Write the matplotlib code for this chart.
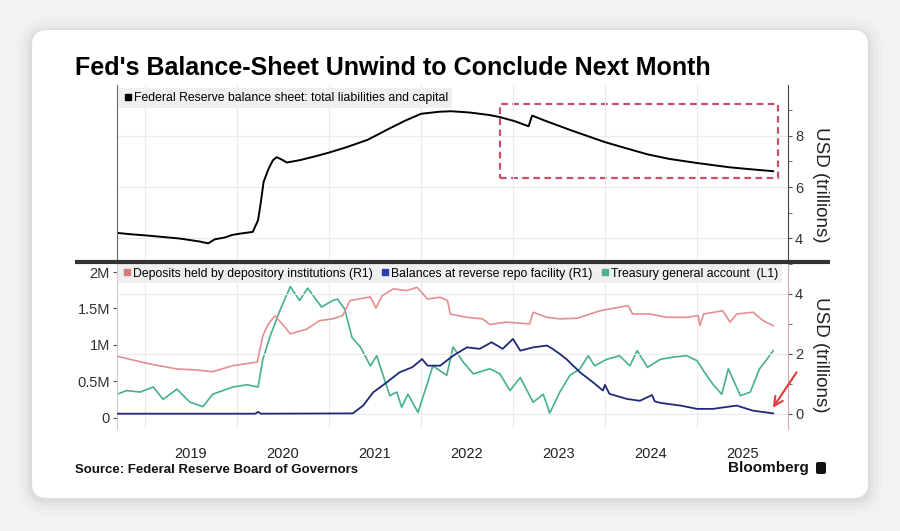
import matplotlib.pyplot as plt
import matplotlib.dates as mdates
from matplotlib.patches import FancyBboxPatch, Rectangle
from matplotlib.lines import Line2D
import pandas as pd

plt.rcParams['font.family'] = ['Liberation Sans Narrow', 'Liberation Sans', 'DejaVu Sans']

# Fed balance sheet, total liabilities and capital (USD trillions)
fed_dates = ['2018-09-13', '2018-11-03', '2019-01-19', '2019-05-19', '2019-08-08', '2019-09-09',
             '2019-10-05', '2019-11-14', '2019-12-13', '2020-01-12', '2020-03-04', '2020-03-25',
             '2020-04-05', '2020-04-16', '2020-05-05', '2020-05-23', '2020-06-07', '2020-07-02',
             '2020-07-17', '2020-09-06', '2020-11-06', '2021-01-01', '2021-03-08', '2021-06-03',
             '2021-08-30', '2021-10-30', '2022-01-01', '2022-03-14', '2022-05-01', '2022-07-13',
             '2022-10-01', '2022-11-10', '2023-01-08', '2023-03-04', '2023-03-18', '2023-05-08',
             '2023-08-26', '2024-01-01', '2024-03-14', '2024-06-18', '2024-09-13', '2025-01-01',
             '2025-05-12', '2025-08-19', '2025-10-30']
fed_total = [4.20, 4.15, 4.09, 3.98, 3.86, 3.79,
             3.95, 4.02, 4.12, 4.17, 4.24, 4.70,
             5.40, 6.20, 6.70, 7.05, 7.17, 7.05,
             6.96, 7.05, 7.20, 7.35, 7.55, 7.85,
             8.30, 8.60, 8.87, 8.95, 8.97, 8.92,
             8.82, 8.74, 8.58, 8.38, 8.80, 8.60,
             8.20, 7.76, 7.55, 7.28, 7.10, 6.94,
             6.77, 6.68, 6.62]

# Deposits held by depository institutions (USD trillions, right axis)
dep_dates = ['2018-09-13', '2019-01-19', '2019-05-08', '2019-07-17', '2019-09-27', '2019-12-16',
             '2020-03-22', '2020-04-13', '2020-05-05', '2020-05-31', '2020-06-29', '2020-07-31',
             '2020-10-05', '2020-11-24', '2021-01-16', '2021-02-24', '2021-03-25', '2021-06-14',
             '2021-07-06', '2021-07-31', '2021-09-13', '2021-11-06', '2021-12-16', '2022-01-27',
             '2022-03-18', '2022-04-16', '2022-04-27', '2022-07-02', '2022-09-02', '2022-10-01',
             '2022-12-05', '2023-03-08', '2023-03-22', '2023-05-16', '2023-07-06', '2023-09-13',
             '2023-11-03', '2023-12-13', '2024-02-03', '2024-04-02', '2024-04-20', '2024-06-29',
             '2024-09-02', '2024-11-21', '2025-01-05', '2025-01-12', '2025-01-27', '2025-04-13',
             '2025-05-12', '2025-06-07', '2025-08-11', '2025-09-20', '2025-10-30']
deposits = [1.92, 1.67, 1.50, 1.47, 1.41, 1.61,
            1.73, 2.61, 3.00, 3.27, 3.00, 2.67,
            2.83, 3.11, 3.17, 3.28, 3.78, 3.90,
            3.53, 3.94, 4.17, 4.11, 4.22, 3.83,
            3.89, 3.78, 3.33, 3.22, 3.17, 2.98,
            3.06, 3.00, 3.39, 3.22, 3.17, 3.19,
            3.33, 3.44, 3.52, 3.61, 3.33, 3.33,
            3.22, 3.22, 3.28, 2.94, 3.33, 3.44,
            3.06, 3.33, 3.39, 3.11, 2.94]

# Balances at reverse repo facility (USD trillions, right axis)
rrp_dates = ['2018-09-13', '2020-03-14', '2020-03-25', '2020-04-05', '2021-04-05', '2021-05-16',
             '2021-06-25', '2021-08-19', '2021-10-08', '2021-11-28', '2022-01-05', '2022-01-27',
             '2022-03-18', '2022-05-08', '2022-07-02', '2022-08-22', '2022-10-08', '2022-11-21',
             '2023-01-01', '2023-01-30', '2023-03-22', '2023-05-16', '2023-06-07', '2023-07-06',
             '2023-08-01', '2023-09-24', '2023-11-14', '2023-12-24', '2024-01-01', '2024-01-19',
             '2024-03-29', '2024-05-19', '2024-07-06', '2024-07-17', '2024-08-08', '2024-10-27',
             '2025-01-01', '2025-03-04', '2025-06-07', '2025-08-11', '2025-10-30']
rrp = [0.01, 0.01, 0.07, 0.01, 0.02, 0.28,
       0.72, 1.06, 1.39, 1.56, 1.83, 1.61,
       1.61, 1.94, 2.22, 2.17, 2.39, 2.17,
       2.50, 2.11, 2.22, 2.28, 2.17, 2.00,
       1.83, 1.39, 1.06, 0.78, 0.97, 0.67,
       0.50, 0.44, 0.63, 0.42, 0.37, 0.28,
       0.17, 0.17, 0.28, 0.11, 0.02]

# Treasury general account (USD millions, in M units, left axis)
tga_dates = ['2018-09-13', '2018-10-19', '2018-12-13', '2019-02-03', '2019-03-14', '2019-05-08',
             '2019-06-29', '2019-08-19', '2019-09-27', '2019-11-14', '2019-12-16', '2020-02-10',
             '2020-03-25', '2020-04-13', '2020-05-12', '2020-06-22', '2020-07-31', '2020-09-06',
             '2020-10-08', '2020-12-02', '2021-01-16', '2021-02-03', '2021-03-04', '2021-04-02',
             '2021-05-05', '2021-06-14', '2021-07-09', '2021-08-30', '2021-09-27', '2021-10-16',
             '2021-11-10', '2021-12-20', '2022-01-27', '2022-02-17', '2022-04-13', '2022-05-08',
             '2022-06-18', '2022-07-28', '2022-10-01', '2022-11-10', '2022-12-20', '2023-01-30',
             '2023-03-22', '2023-05-01', '2023-05-27', '2023-07-06', '2023-08-15', '2023-09-24',
             '2023-10-27', '2023-11-21', '2024-01-08', '2024-02-28', '2024-04-09', '2024-05-08',
             '2024-06-18', '2024-08-08', '2024-09-27', '2024-11-21', '2025-01-01', '2025-01-27',
             '2025-03-04', '2025-04-09', '2025-05-05', '2025-05-23', '2025-06-22', '2025-07-31',
             '2025-09-06', '2025-10-05', '2025-10-30']
tga = [0.32, 0.37, 0.35, 0.42, 0.25, 0.39,
       0.21, 0.15, 0.32, 0.38, 0.42, 0.45,
       0.42, 0.80, 1.12, 1.49, 1.80, 1.61,
       1.78, 1.52, 1.61, 1.63, 1.49, 1.10,
       0.97, 0.71, 0.85, 0.30, 0.35, 0.14,
       0.32, 0.07, 0.48, 0.71, 0.58, 0.97,
       0.76, 0.60, 0.67, 0.60, 0.37, 0.55,
       0.21, 0.32, 0.06, 0.35, 0.58, 0.67,
       0.85, 0.71, 0.80, 0.85, 0.71, 0.92,
       0.69, 0.80, 0.83, 0.85, 0.78, 0.64,
       0.46, 0.32, 0.67, 0.53, 0.30, 0.35,
       0.67, 0.80, 0.92]

tga_ticks = [0, 0.5, 1, 1.5, 2]
tga_labels = ['0', '0.5M', '1M', '1.5M', '2M']

fed_dates = pd.to_datetime(fed_dates)
dep_dates = pd.to_datetime(dep_dates)
rrp_dates = pd.to_datetime(rrp_dates)
tga_dates = pd.to_datetime(tga_dates)
x_min, x_max = pd.Timestamp('2018-09-12'), pd.Timestamp('2025-12-28')

fig = plt.figure(figsize=(9, 5.31), dpi=100, facecolor='#f2f2f2')

# white card with soft shadow
for pad, a in [(0.14, 0.012), (0.10, 0.016), (0.06, 0.022), (0.03, 0.03)]:
    fig.add_artist(FancyBboxPatch((0.32, 0.31), 8.36, 4.68,
                                  boxstyle=f'round,pad={pad},rounding_size={0.15 + pad}',
                                  transform=fig.dpi_scale_trans, fc='black', ec='none',
                                  alpha=a, zorder=-3))
fig.add_artist(FancyBboxPatch((0.32, 0.33), 8.36, 4.68,
                              boxstyle='round,pad=0,rounding_size=0.15',
                              transform=fig.dpi_scale_trans, fc='white', ec='none', zorder=-2))

ax1 = fig.add_axes([0.130, 0.5085, 0.7456, 0.3315])
ax2 = fig.add_axes([0.130, 0.1921, 0.7456, 0.3126])
ax2r = ax2.twinx()
for ax in (ax1, ax2, ax2r):
    ax.set_facecolor('none')
    ax.set_xlim(x_min, x_max)

grid_c = '#ebebeb'

# top panel
ax1.plot(fed_dates, fed_total, color='black', lw=1.4)
ax1.set_ylim(3.1, 10)
ax1.yaxis.tick_right()
ax1.set_yticks([4, 6, 8])
ax1.set_yticks([5, 7, 9], minor=True)
ax1.tick_params(axis='y', which='both', direction='out', length=3, color='#555555',
                labelsize=10.5, labelcolor='#333333', pad=2)
ax1.xaxis.set_major_locator(mdates.YearLocator())
ax1.tick_params(axis='x', which='both', length=0, labelbottom=False)
ax1.grid(True, which='major', color=grid_c, lw=0.8)
for s in ('top', 'bottom'):
    ax1.spines[s].set_visible(False)
ax1.spines['left'].set_color('#666666')
ax1.spines['right'].set_color('#444444')
ax1.legend([Line2D([], [], marker='s', ls='none', color='black', markersize=5)],
           ['Federal Reserve balance sheet: total liabilities and capital'],
           loc='upper left', bbox_to_anchor=(0.002, 0.985), borderaxespad=0,
           frameon=True, fancybox=False, facecolor='#efefef', edgecolor='none', framealpha=1,
           borderpad=0.35, handletextpad=0.1, handlelength=0.8, fontsize=8.8)
ax1.add_patch(Rectangle((0.571, 0.472), 0.414, 0.42, transform=ax1.transAxes, fill=False,
                        ec='#c8506a', ls=(0, (3, 2)), lw=1.6, clip_on=False))

# bottom panel
ax2.plot(tga_dates, tga, color='#45b08c', lw=1.2)
ax2r.plot(dep_dates, deposits, color='#e39090', lw=1.2)
ax2r.plot(rrp_dates, rrp, color='#1e2a78', lw=1.3)
ax2.set_ylim(-0.158, 2.125)
ax2r.set_ylim(-0.5, 5.03)
ax2.set_yticks(tga_ticks)
ax2.set_yticklabels(tga_labels)
ax2r.set_yticks([0, 2, 4])
ax2r.set_yticks([1, 3, 5], minor=True)
ax2.tick_params(axis='y', direction='out', length=3, color='#555555',
                labelsize=10.5, labelcolor='#333333', pad=2)
ax2r.tick_params(axis='y', which='both', direction='out', length=3, color='#555555',
                 labelsize=10.5, labelcolor='#333333', pad=2)
ax2.xaxis.set_major_locator(mdates.YearLocator())
ax2.xaxis.set_minor_locator(mdates.MonthLocator(bymonth=7))
ax2.xaxis.set_major_formatter(plt.NullFormatter())
ax2.xaxis.set_minor_formatter(mdates.DateFormatter('%Y'))
ax2.tick_params(axis='x', which='both', length=0, labelsize=10.5, labelcolor='#222222', pad=13)
ax2r.tick_params(axis='x', which='both', length=0)
ax2.grid(True, axis='x', which='major', color=grid_c, lw=0.8)
ax2r.grid(True, axis='y', which='major', color=grid_c, lw=0.8)
for s in ('top', 'bottom', 'right'):
    ax2.spines[s].set_visible(False)
ax2.spines['left'].set_color('#cccccc')
for s in ('top', 'bottom', 'left'):
    ax2r.spines[s].set_visible(False)
ax2r.spines['right'].set_color('#d8a8a8')

handles = [Line2D([], [], marker='s', ls='none', color=c, markersize=5)
           for c in ('#d97a7a', '#2b3fb5', '#4cb38f')]
ax2r.legend(handles,
            ['Deposits held by depository institutions (R1)',
             'Balances at reverse repo facility (R1)',
             'Treasury general account  (L1)'],
            loc='upper left', bbox_to_anchor=(0.002, 0.995), borderaxespad=0, ncol=3,
            frameon=True, fancybox=False, facecolor='#efefef', edgecolor='none', framealpha=1,
            borderpad=0.3, handletextpad=0.1, handlelength=0.8, columnspacing=0.6, fontsize=8.8)

ax2r.annotate('', xy=(0.975, 0.114), xycoords='axes fraction', xytext=(1.015, 0.355),
              arrowprops=dict(arrowstyle='->', color='#e03a3a', lw=1.5, mutation_scale=16),
              annotation_clip=False)

# separator between panels
fig.add_artist(Line2D([75 / 900, 830 / 900], [1 - 262 / 531] * 2, transform=fig.transFigure,
                      color='#333333', lw=3, solid_capstyle='butt'))

fig.text(75 / 900, 1 - 68 / 531, "Fed's Balance-Sheet Unwind to Conclude Next Month",
         fontsize=18, fontweight='bold', va='center', ha='left', color='black')
fig.text(821 / 900, 1 - 185 / 531, 'USD (trillions)', rotation=270, fontsize=13.5,
         va='center', ha='center', color='#222222')
fig.text(821 / 900, 1 - 355 / 531, 'USD (trillions)', rotation=270, fontsize=13.5,
         va='center', ha='center', color='#222222')
fig.text(75 / 900, 1 - 470 / 531, 'Source: Federal Reserve Board of Governors',
         fontsize=9.5, fontweight='bold', va='center', ha='left', color='#111111')
fig.text(809 / 900, 1 - 468 / 531, 'Bloomberg', fontsize=11, fontweight='bold',
         va='center', ha='right', color='#111111')
fig.add_artist(FancyBboxPatch((816 / 900, 1 - 474 / 531), 10 / 900, 12 / 531,
                              boxstyle='round,pad=0,rounding_size=0.003',
                              transform=fig.transFigure, fc='#111111', ec='none'))

fig.savefig('out.png', dpi=100, facecolor=fig.get_facecolor())
